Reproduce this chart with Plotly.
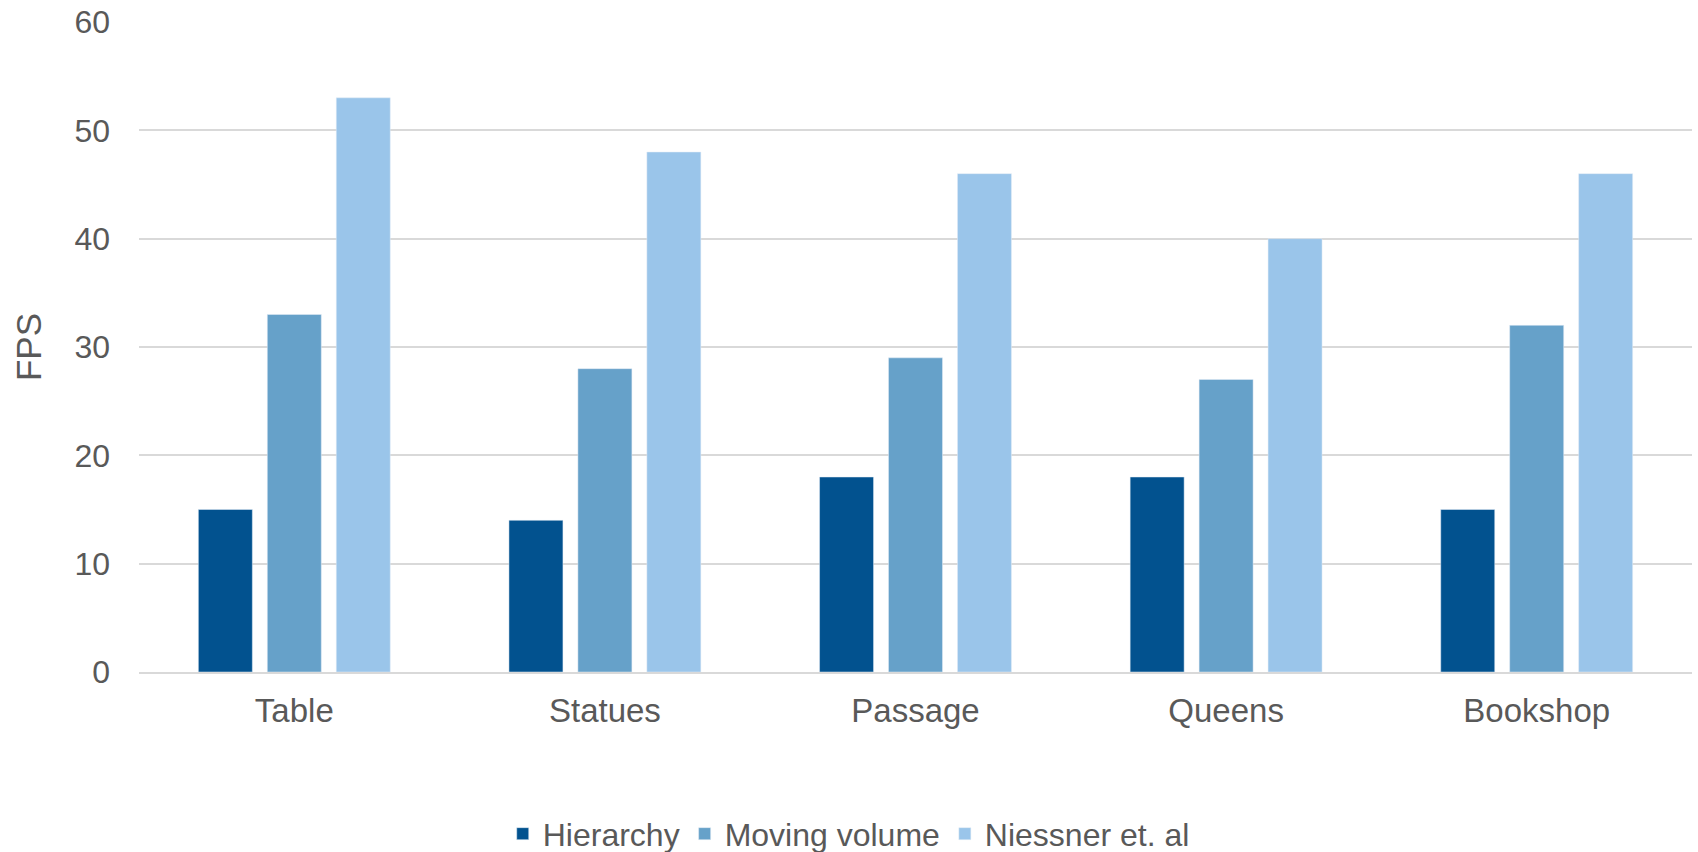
import plotly.graph_objects as go

categories = ["Table", "Statues", "Passage", "Queens", "Bookshop"]
hierarchy = [15, 14, 18, 18, 15]
moving_volume = [33, 28, 29, 27, 32]
niessner = [53, 48, 46, 40, 46]
y_ticks = [0, 10, 20, 30, 40, 50, 60]

font = "Liberation Sans, Arial, sans-serif"
text_color = "#595959"

fig = go.Figure()
fig.add_trace(go.Bar(name="Hierarchy", x=categories, y=hierarchy, marker_color="#02528F"))
fig.add_trace(go.Bar(name="Moving volume", x=categories, y=moving_volume, marker_color="#66A1C9"))
fig.add_trace(go.Bar(name="Niessner et. al", x=categories, y=niessner, marker_color="#9AC5EA"))

fig.update_layout(
    width=1698, height=852,
    margin=dict(l=139, r=6, t=22, b=180, autoexpand=False),
    paper_bgcolor="white", plot_bgcolor="white",
    barmode="group", bargap=0.334, bargroupgap=0.217,
    font=dict(family=font, size=32, color=text_color),
    legend=dict(orientation="h", x=0.457, xanchor="center",
                y=-0.249, yanchor="middle", font=dict(size=32, color=text_color),
                traceorder="normal", entrywidth=0),
    showlegend=True,
)
fig.update_xaxes(showgrid=False, showline=True, linecolor="#D9D9D9", linewidth=2,
                 ticks="", tickangle=0, ticklabelstandoff=8, tickfont=dict(size=33, color=text_color))
fig.update_yaxes(range=[0, 60], tickvals=y_ticks, showgrid=True, gridcolor="#D9D9D9", gridwidth=2,
                 zeroline=False, showline=False, ticks="", ticklabelstandoff=28,
                 tickfont=dict(size=32, color=text_color),
                 title=dict(text="FPS", font=dict(size=35, color=text_color), standoff=22))

fig.write_html("out.html")
